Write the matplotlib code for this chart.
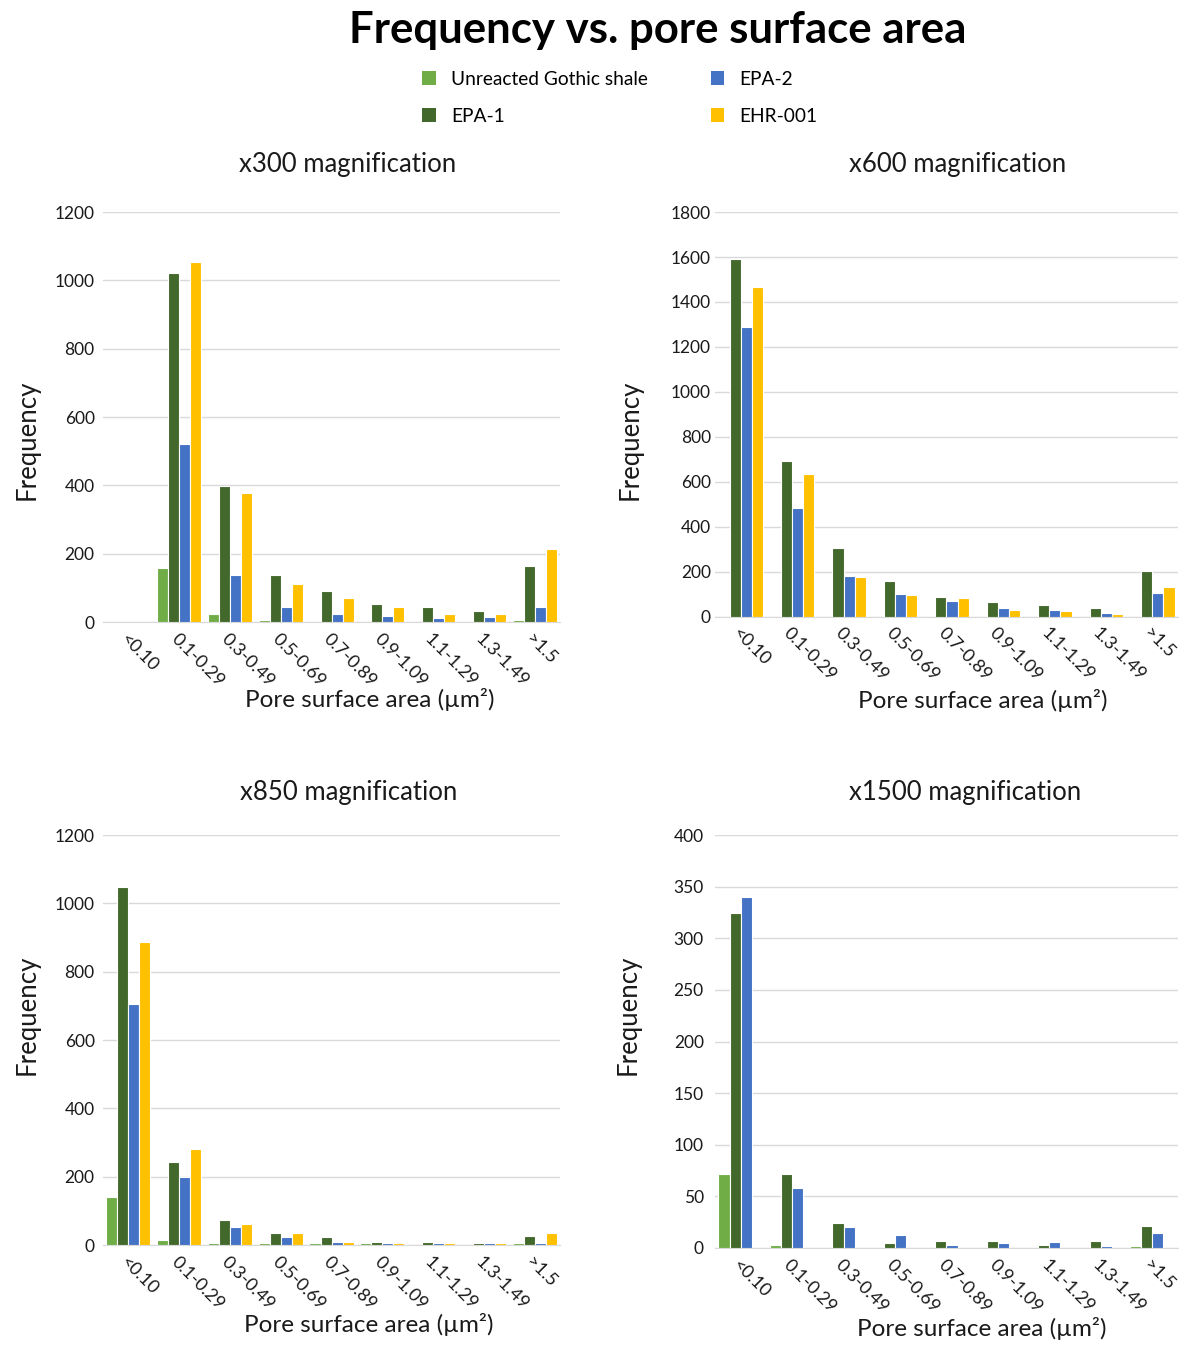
import numpy as np
import matplotlib
matplotlib.use('Agg')
import matplotlib.pyplot as plt
from matplotlib.patches import Patch

plt.rcParams['font.family'] = ['Lato', 'DejaVu Sans']

categories = ['<0.10', '0.1-0.29', '0.3-0.49', '0.5-0.69', '0.7-0.89',
              '0.9-1.09', '1.1-1.29', '1.3-1.49', '>1.5']
series_names = ['Unreacted Gothic shale', 'EPA-1', 'EPA-2', 'EHR-001']
colors = ['#70AD47', '#43682B', '#4472C4', '#FFC000']

# x300 magnification
x300_unreacted = [0, 158, 23, 7, 0, 0, 0, 0, 7]
x300_epa1 = [0, 1022, 397, 137, 92, 52, 44, 32, 163]
x300_epa2 = [0, 521, 137, 44, 23, 19, 11, 14, 44]
x300_ehr = [0, 1054, 377, 112, 69, 44, 23, 23, 214]

# x600 magnification
x600_unreacted = [0, 0, 0, 0, 0, 0, 0, 0, 0]
x600_epa1 = [1590, 693, 306, 160, 90, 65, 51, 38, 203]
x600_epa2 = [1289, 484, 184, 103, 69, 38, 31, 19, 107]
x600_ehr = [1467, 636, 179, 96, 84, 31, 26, 12, 134]

# x850 magnification
x850_unreacted = [142, 15, 5, 5, 5, 5, 0, 0, 5]
x850_epa1 = [1047, 244, 74, 35, 23, 10, 10, 5, 27]
x850_epa2 = [705, 198, 53, 23, 10, 5, 5, 5, 5]
x850_ehr = [886, 280, 61, 34, 10, 5, 5, 5, 34]

# x1500 magnification
x1500_unreacted = [72, 3, 0, 0, 0, 0, 0, 0, 2]
x1500_epa1 = [324, 72, 24, 5, 7, 7, 3, 7, 21]
x1500_epa2 = [340, 58, 20, 13, 3, 5, 6, 2, 15]
x1500_ehr = [0, 0, 0, 0, 0, 0, 0, 0, 0]

panels = [
    ('x300 magnification', [x300_unreacted, x300_epa1, x300_epa2, x300_ehr], 1200, 200),
    ('x600 magnification', [x600_unreacted, x600_epa1, x600_epa2, x600_ehr], 1800, 200),
    ('x850 magnification', [x850_unreacted, x850_epa1, x850_epa2, x850_ehr], 1200, 200),
    ('x1500 magnification', [x1500_unreacted, x1500_epa1, x1500_epa2, x1500_ehr], 400, 50),
]

# axes rectangles in figure fraction, plus label offsets
rects = [
    [0.0874, 0.5382, 0.3876, 0.3044],
    [0.6064, 0.5420, 0.3927, 0.3006],
    [0.0874, 0.0757, 0.3876, 0.3044],
    [0.6064, 0.0735, 0.3927, 0.3066],
]
title_x = [0.536, 0.525, 0.537, 0.54]
title_pad = [29, 29, 25, 25]
ylab_pos = [(-0.166, 0.444), (-0.184, 0.437), (-0.166, 0.561), (-0.188, 0.564)]
xlab_pos = [(0.584, -0.19), (0.579, -0.207), (0.582, -0.195), (0.577, -0.194)]
ypad = [6, 3, 6, 8]

fig = plt.figure(figsize=(11.79, 13.47), dpi=100)

fig.text(0.558, 0.978, 'Frequency vs. pore surface area', ha='center', va='center',
         fontsize=31.5, fontweight='bold')

x = np.arange(len(categories))
slot = 0.217

for i, (title, data, ymax, step) in enumerate(panels):
    ax = fig.add_axes(rects[i])
    for j, vals in enumerate(data):
        ax.bar(x + (j - 1.5) * slot, vals, width=slot, color=colors[j],
               edgecolor='white', linewidth=0.8, zorder=3)
    ax.set_xlim(-0.5, len(categories) - 0.5)
    ax.set_ylim(0, ymax)
    ax.set_yticks(np.arange(0, ymax + 1, step))
    ax.grid(axis='y', color='#d9d9d9', linewidth=1)
    for s in ['top', 'right', 'left']:
        ax.spines[s].set_visible(False)
    ax.spines['bottom'].set_color('#d9d9d9')
    ax.tick_params(axis='y', length=0, labelsize=12.5, pad=ypad[i], labelcolor='#1a1a1a')
    ax.tick_params(axis='x', length=0, labelsize=13, pad=6, labelcolor='#1a1a1a')
    ax.set_xticks(x)
    ax.set_xticklabels(categories, rotation=-45, ha='left', va='top',
                       rotation_mode='anchor')
    ax.set_title(title, fontsize=18.5, x=title_x[i], y=1.0, pad=title_pad[i], color='#1a1a1a')
    ax.set_ylabel('Frequency', fontsize=18.5, color='#1a1a1a', va='center')
    ax.yaxis.set_label_coords(*ylab_pos[i])
    ax.set_xlabel('Pore surface area (µm²)', fontsize=17.5, color='#1a1a1a', va='center')
    ax.xaxis.set_label_coords(*xlab_pos[i])

handles = [Patch(facecolor=c, label=n) for c, n in zip(colors, series_names)]
fig.legend(handles=handles, ncol=2, loc='center', bbox_to_anchor=(0.526, 0.9275),
           frameon=False, fontsize=13.8, handlelength=0.7, handleheight=0.7,
           columnspacing=3.28, labelspacing=1.05, handletextpad=0.8)

fig.savefig('out.png', dpi=100, facecolor='white')
